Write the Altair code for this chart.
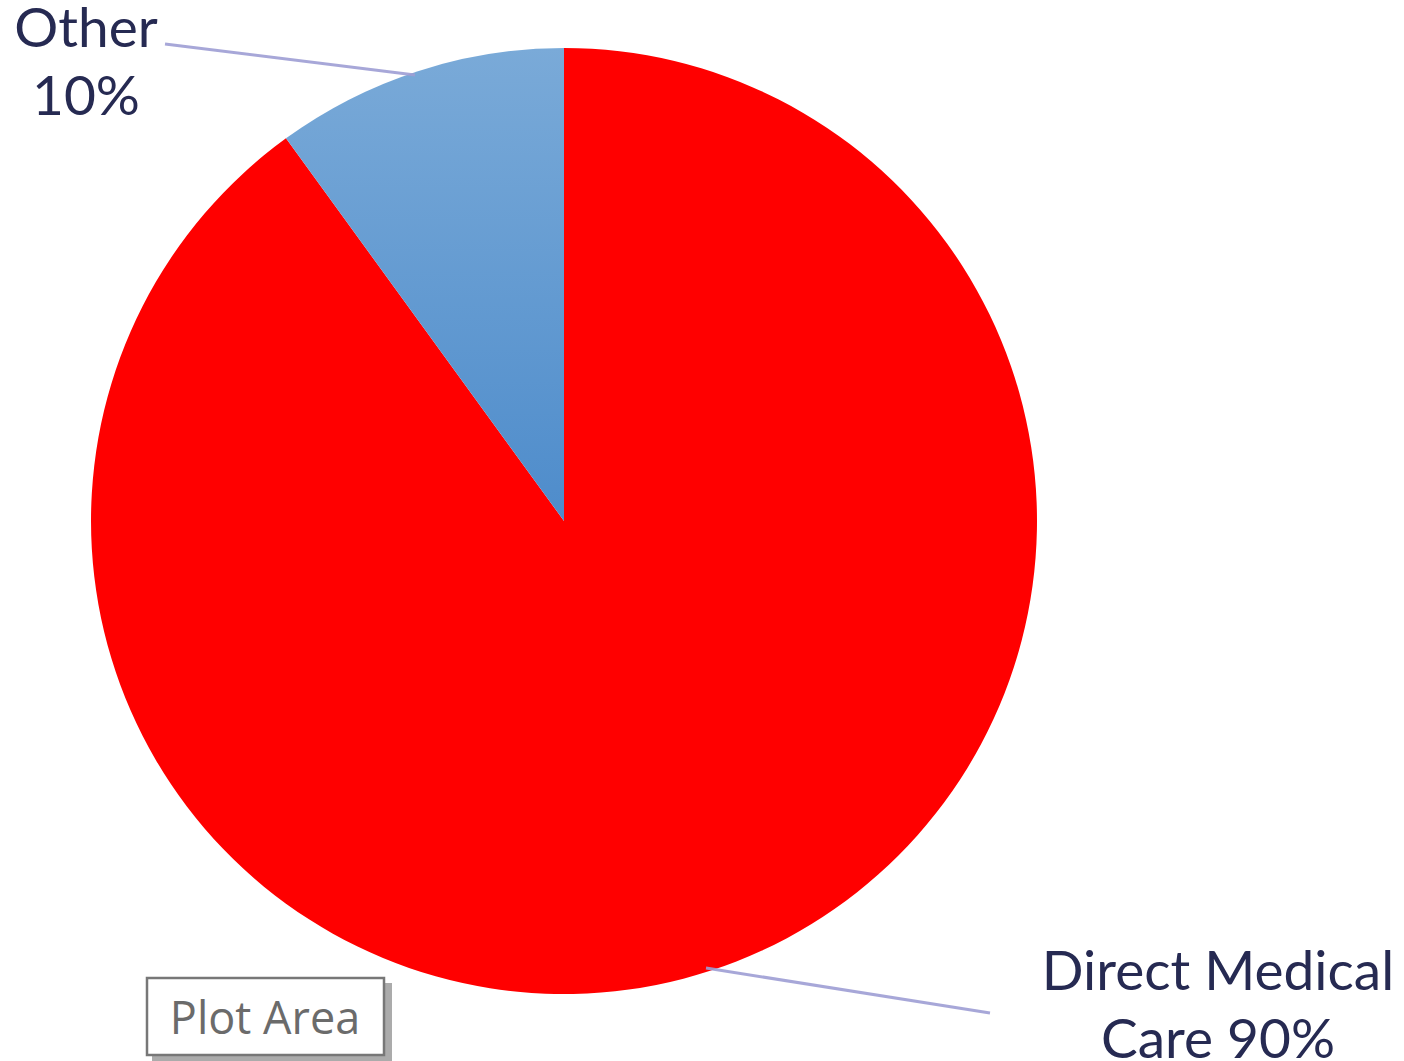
import math
import altair as alt
import pandas as pd

# ---- data ----
categories = ["Direct Medical Care", "Other"]
values = [90, 10]
label_texts = ["Direct Medical\nCare 90%", "Other\n10%"]

df = pd.DataFrame({"category": categories, "value": values,
                   "label": label_texts, "order": [0, 1]})

W, H = 1404, 1061
CX, CY, R = 564, 521, 473
TEXT_COLOR = "#262a52"
LEADER = "#9d9dd4"

base = alt.Chart(df).transform_window(
    end="sum(value)", sort=[alt.SortField("order")], frame=[None, 0]
).transform_calculate(start="datum.end - datum.value")

theta_scale = alt.Scale(domain=[0, 100], range=[0, 2 * math.pi])

def slice_layer(cat, color):
    return base.transform_filter(alt.datum.category == cat).mark_arc(
        color=color, radius=R, stroke=None
    ).encode(
        theta=alt.Theta("start:Q", scale=theta_scale),
        theta2="end:Q",
        x=alt.value(CX),
        y=alt.value(CY),
    )

red = slice_layer("Direct Medical Care", "#ff0000")
blue = slice_layer("Other", alt.Gradient(
    gradient="linear", x1=0, x2=0, y1=0, y2=1,
    stops=[alt.GradientStop(color="#7aaad8", offset=0),
           alt.GradientStop(color="#4e8ccb", offset=1)]))

def leader(x1, y1, x2, y2):
    return alt.Chart(df.head(1)).mark_rule(color=LEADER, strokeWidth=3, opacity=0.9).encode(
        x=alt.value(x1), y=alt.value(y1), x2=alt.value(x2), y2=alt.value(y2))

lead_other = leader(165, 44, 415, 75)
lead_dmc = leader(706, 968, 990, 1013)

def label_layer(cat, x, y):
    return alt.Chart(df).transform_filter(alt.datum.category == cat).mark_text(
        font="Lato", fontSize=55, color=TEXT_COLOR, align="center",
        baseline="alphabetic", lineBreak="\n", lineHeight=68
    ).encode(text="label:N", x=alt.value(x), y=alt.value(y))

lab_other = label_layer("Other", 86, 47)
lab_dmc = label_layer("Direct Medical Care", 1218, 990)

# "Plot Area" hover tooltip box
shadow = alt.Chart(df.head(1)).mark_rect(color="#8f8f8f", opacity=0.75).encode(
    x=alt.value(152), x2=alt.value(392), y=alt.value(983), y2=alt.value(1061))
box = alt.Chart(df.head(1)).mark_rect(fill="white", stroke="#777777", strokeWidth=2.5).encode(
    x=alt.value(147), x2=alt.value(384), y=alt.value(978), y2=alt.value(1055))
box_text = alt.Chart(df.head(1)).mark_text(
    font="Open Sans", fontSize=45, color="#6b6b6b", align="center", baseline="alphabetic"
).encode(text=alt.value("Plot Area"), x=alt.value(265), y=alt.value(1034))

chart = alt.layer(
    red, blue, lead_other, lead_dmc, lab_other, lab_dmc, shadow, box, box_text
).properties(
    width=W, height=H, padding=0, autosize=alt.AutoSizeParams(type="none"),
    background="white"
).configure_view(stroke=None)

chart.save("out.html", embed_options={"renderer": "svg", "actions": False})
